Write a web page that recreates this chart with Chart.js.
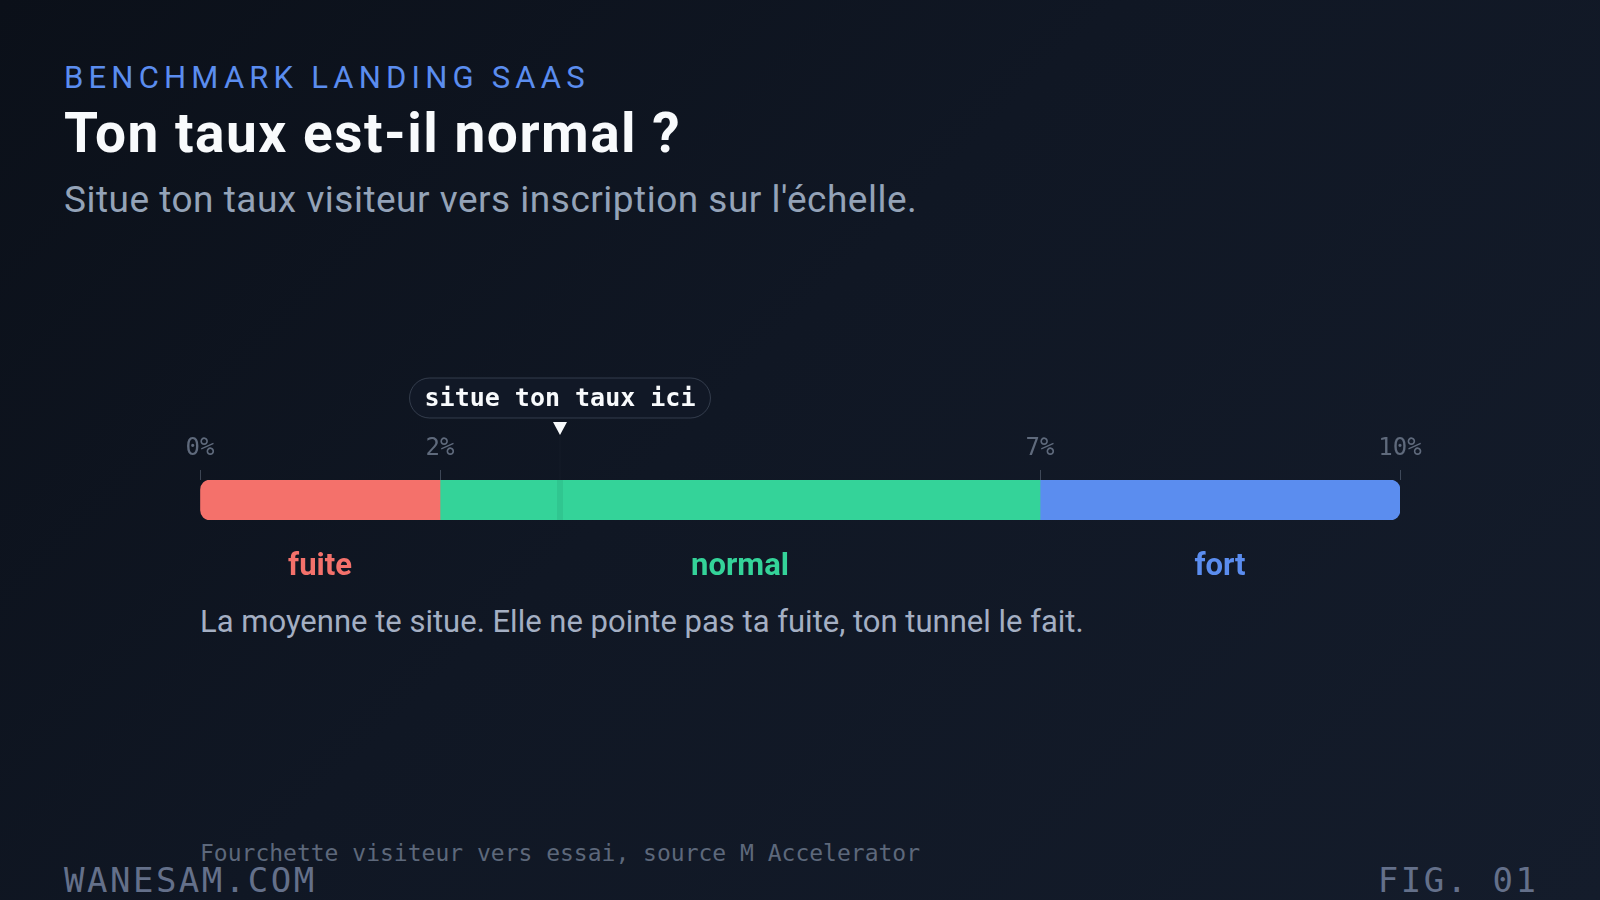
<!DOCTYPE html>
<html lang="fr">
<head>
<meta charset="utf-8">
<title>Ton taux est-il normal ?</title>
<script src="https://cdn.jsdelivr.net/npm/chart.js@4.4.1/dist/chart.umd.min.js"></script>
<style>
  html, body { margin: 0; padding: 0; }
  body {
    width: 1600px; height: 900px; overflow: hidden; position: relative;
    background: linear-gradient(135deg, #0b1019 0%, #101724 45%, #141c2b 100%);
    font-family: Roboto, sans-serif;
  }
  #chart { position: absolute; left: 0; top: 0; }
  .txt { position: absolute; margin: 0; white-space: nowrap; line-height: 1; }
  #kicker { left: 64px; top: 59px; font: 400 31px Roboto, sans-serif; letter-spacing: 5.2px; color: #5b8def; }
  #title { left: 64px; top: 101px; font: 700 55px Roboto, sans-serif; letter-spacing: 1.5px; color: #f8fafc; }
  #sub { left: 64px; top: 178px; font: 400 37px Roboto, sans-serif; letter-spacing: 0.5px; color: #94a3b8; }
  #note { left: 200px; top: 603px; font: 400 31px Roboto, sans-serif; color: #a4afc3; }
  #source { left: 200px; top: 840px; font: 400 23px "DejaVu Sans Mono", monospace; color: #5d687b; }
  #brand { left: 64px; top: 860px; font: 400 34px "DejaVu Sans Mono", monospace; letter-spacing: 2.5px; color: #64708a; }
  #fig { right: 61.5px; top: 860px; font: 400 34px "DejaVu Sans Mono", monospace; letter-spacing: 2.5px; color: #64708a; }
</style>
</head>
<body>
<p class="txt" id="kicker">BENCHMARK LANDING SAAS</p>
<p class="txt" id="title">Ton taux est-il normal ?</p>
<p class="txt" id="sub">Situe ton taux visiteur vers inscription sur l'échelle.</p>
<p class="txt" id="note">La moyenne te situe. Elle ne pointe pas ta fuite, ton tunnel le fait.</p>
<p class="txt" id="source">Fourchette visiteur vers essai, source M Accelerator</p>
<p class="txt" id="brand">WANESAM.COM</p>
<p class="txt" id="fig">FIG. 01</p>
<canvas id="chart" width="1600" height="900"></canvas>
<script>
const categories = ["fuite", "normal", "fort"];
const rangeStart = [0, 2, 7];
const rangeEnd = [2, 7, 10];
const colors = ["#f4716b", "#34d399", "#5b8def"];
const tickValues = [0, 2, 7, 10];
const markerValue = 3;
const markerLabel = "situe ton taux ici";

function roundRect(ctx, x, y, w, h, r) {
  ctx.beginPath();
  ctx.moveTo(x + r, y);
  ctx.lineTo(x + w - r, y);
  ctx.arc(x + w - r, y + r, r, -Math.PI / 2, Math.PI / 2);
  ctx.lineTo(x + r, y + h);
  ctx.arc(x + r, y + r, r, Math.PI / 2, Math.PI * 1.5);
  ctx.closePath();
}

// marker, pill and zone labels drawn from the x scale
const overlay = {
  id: "overlay",
  afterDatasetsDraw(chart) {
    const ctx = chart.ctx;
    const x = chart.scales.x;
    const area = chart.chartArea;
    const mx = x.getPixelForValue(markerValue);

    ctx.save();
    // faint stripe through the bar
    ctx.fillStyle = "rgba(0,0,0,0.06)";
    ctx.fillRect(mx - 3, area.top, 6, area.bottom - area.top);
    ctx.fillStyle = "rgba(255,255,255,0.012)";
    ctx.fillRect(mx - 1, 436, 2, area.top - 436);

    // triangle
    ctx.fillStyle = "#f8fafc";
    ctx.beginPath();
    ctx.moveTo(mx - 7, 422);
    ctx.lineTo(mx + 7, 422);
    ctx.lineTo(mx, 435);
    ctx.closePath();
    ctx.fill();

    // pill
    ctx.font = "bold 25px 'DejaVu Sans Mono', monospace";
    const tw = ctx.measureText(markerLabel).width;
    const pw = tw + 30, ph = 40;
    roundRect(ctx, mx - pw / 2, 378, pw, ph, ph / 2);
    ctx.fillStyle = "#111826";
    ctx.fill();
    ctx.strokeStyle = "rgba(148,163,184,0.28)";
    ctx.lineWidth = 1;
    ctx.stroke();
    ctx.fillStyle = "#f8fafc";
    ctx.textAlign = "center";
    ctx.textBaseline = "middle";
    ctx.fillText(markerLabel, mx, 399);

    // zone labels
    ctx.font = "700 31px Roboto, sans-serif";
    categories.forEach((c, i) => {
      const cx = x.getPixelForValue((rangeStart[i] + rangeEnd[i]) / 2);
      ctx.fillStyle = colors[i];
      ctx.fillText(c, cx, 567);
    });
    ctx.restore();
  }
};

const radii = [
  { topLeft: 10, bottomLeft: 10, topRight: 0, bottomRight: 0 },
  0,
  { topLeft: 0, bottomLeft: 0, topRight: 10, bottomRight: 10 }
];

new Chart(document.getElementById("chart"), {
  type: "bar",
  data: {
    labels: ["taux"],
    datasets: categories.map((c, i) => ({
      label: c,
      data: [[rangeStart[i], rangeEnd[i]]],
      backgroundColor: colors[i],
      borderRadius: radii[i],
      borderSkipped: false,
      grouped: false,
      barPercentage: 1,
      categoryPercentage: 1
    }))
  },
  options: {
    indexAxis: "y",
    responsive: false,
    animation: false,
    devicePixelRatio: 1,
    layout: { padding: { left: 200, right: 200, top: 420, bottom: 380 } },
    plugins: { legend: { display: false }, tooltip: { enabled: false } },
    scales: {
      x: {
        position: "top",
        min: 0,
        max: 10,
        afterBuildTicks(scale) {
          scale.ticks = tickValues.map(v => ({ value: v }));
        },
        afterFit(scale) { scale.height = 60; },
        border: { display: false },
        grid: {
          drawOnChartArea: false,
          drawTicks: true,
          tickLength: 10,
          color: "rgba(148,163,184,0.35)"
        },
        ticks: {
          padding: 7,
          color: "#5f6a7c",
          font: { family: "'DejaVu Sans Mono', monospace", size: 24 },
          callback: v => v + "%"
        }
      },
      y: { display: false }
    }
  },
  plugins: [overlay]
});
</script>
</body>
</html>
